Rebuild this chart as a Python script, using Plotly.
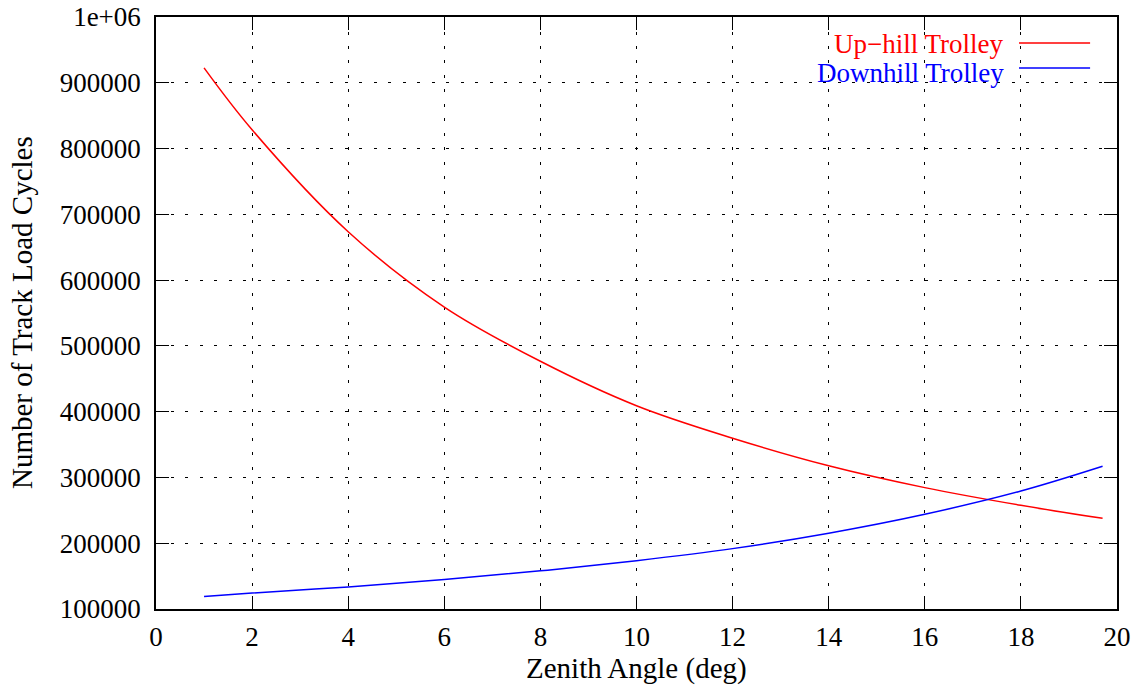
import plotly.graph_objects as go

# Zenith angle samples (deg)
zenith_deg = [1, 2, 4, 6, 8, 10, 12, 14, 16, 18, 19.7]

# Number of track load cycles for each trolley
uphill_cycles = [922600, 828500, 673500, 559000, 476600, 409000, 359600, 317700, 284500, 257600, 237800]
downhill_cycles = [119000, 124300, 133500, 144700, 158000, 173500, 191800, 215200, 244000, 279300, 316900]

series_names = ["Up\u2212hill Trolley", "Downhill Trolley"]
series_colors = ["#ff0000", "#0000ff"]

x_ticks = list(range(0, 21, 2))
y_ticks = [100000, 200000, 300000, 400000, 500000, 600000, 700000, 800000, 900000, 1000000]
y_tick_text = ["100000", "200000", "300000", "400000", "500000", "600000", "700000", "800000", "900000", "1e+06"]

x_title = "Zenith Angle (deg)"
y_title = "Number of Track Load Cycles"

FONT = "Liberation Serif, Times New Roman, serif"
FS = 27
FS_TITLE = 29

fig = go.Figure()
for name, ys, col in zip(series_names, [uphill_cycles, downhill_cycles], series_colors):
    fig.add_trace(go.Scatter(
        x=zenith_deg, y=ys, mode="lines", name=name,
        line=dict(color=col, width=1.5, shape="spline", smoothing=1.0),
        showlegend=False,
    ))

# gnuplot-style key: right-aligned label with line sample to its right
key_rows = [(0.955, 0.956), (0.905, 0.914)]
for (ty, ly), name, col in zip(key_rows, series_names, series_colors):
    fig.add_annotation(xref="paper", yref="paper", x=0.884, y=ty, text=name,
                       showarrow=False, xanchor="right", yanchor="middle",
                       font=dict(family=FONT, size=FS, color=col))
    fig.add_shape(type="line", xref="paper", yref="paper", x0=0.898, x1=0.972,
                  y0=ly, y1=ly, line=dict(color=col, width=1.5))

# axis titles
fig.add_annotation(xref="paper", yref="paper", x=0.5, y=-0.1005, text=x_title,
                   showarrow=False, xanchor="center", yanchor="middle",
                   font=dict(family=FONT, size=FS_TITLE, color="black"))
fig.add_annotation(xref="paper", yref="paper", x=-0.1394, y=0.5, text=y_title,
                   showarrow=False, xanchor="center", yanchor="middle", textangle=-90,
                   font=dict(family=FONT, size=FS_TITLE, color="black"))

axis_common = dict(
    showline=True, linecolor="black", linewidth=1.5, mirror="allticks",
    ticks="inside", ticklen=13, tickwidth=1.2, tickcolor="black",
    showgrid=True, gridcolor="black", gridwidth=1, griddash="3px,11.5px",
    zeroline=False, automargin=False,
    tickfont=dict(family=FONT, size=FS, color="black"),
)

fig.update_xaxes(range=[0, 20], tickvals=x_ticks, ticklabelstandoff=3, **axis_common)
fig.update_yaxes(range=[100000, 1000000], tickvals=y_ticks, ticktext=y_tick_text,
                 ticklabelstandoff=8, **axis_common)

fig.update_layout(
    width=1133, height=690,
    margin=dict(l=156, r=16, t=17, b=81),
    paper_bgcolor="white", plot_bgcolor="white",
    font=dict(family=FONT, size=FS, color="black"),
)

fig.write_html("out.html")
